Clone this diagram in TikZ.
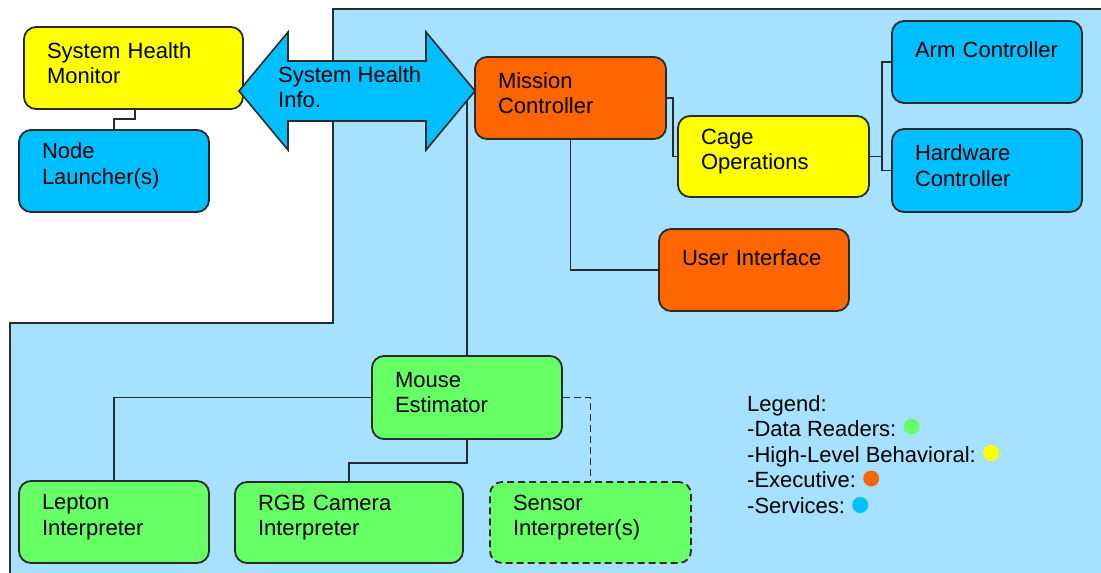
\documentclass[tikz,border=0pt]{standalone}
\usepackage{fontspec}
\setmainfont{Liberation Sans}
\definecolor{bgblue}{HTML}{A6E1FF}
\definecolor{svc}{HTML}{00BFFF}
\definecolor{beh}{HTML}{FFFF00}
\definecolor{exe}{HTML}{FF6600}
\definecolor{dat}{HTML}{66FF66}
\definecolor{edge}{HTML}{2A2A2A}
\begin{document}
\begin{tikzpicture}[x=1pt,y=-1pt,
  box/.style={draw=edge, line width=1.8pt, rounded corners=12pt, minimum height=82pt,
    inner xsep=23pt, inner ysep=0pt, align=left, font=\fontsize{22}{25.5}\selectfont,
    execute at end node={\endgraf\vspace{10pt}}},
  conn/.style={draw=edge, line width=1.8pt},
  leg/.style={inner sep=0pt, font=\fontsize{22}{25.5}\selectfont, anchor=base west},
  dot/.style={circle, inner sep=0pt, minimum size=16pt}]
\useasboundingbox (0,0) rectangle (1101,573);
\fill[white] (0,0) rectangle (1101,573);
% background region
\fill[bgblue] (10,573) -- (10,323) -- (333,323) -- (333,9) -- (1101,9) -- (1101,573) -- cycle;
\draw[conn] (10,573) -- (10,323) -- (333,323) -- (333,9) -- (1101,9);
% boxes
\node[box, fill=beh, text width=173pt] (shm) at (133.5,68) {System Health\\Monitor};
\node[box, fill=svc, text width=144pt] (nl) at (114,171) {Node\\Launcher(s)};
\node[box, fill=exe, text width=145pt] (mc) at (570.5,98) {Mission\\Controller};
\node[box, fill=beh, text width=145pt, minimum height=81pt] (cage) at (773.5,156.5) {Cage\\Operations};
\node[box, fill=svc, text width=144pt] (arm) at (987,62) {Arm Controller\\[-10pt]\mbox{}};
\node[box, fill=svc, text width=144pt, minimum height=83pt] (hw) at (987,170.5) {Hardware\\Controller};
\node[box, fill=exe, text width=144pt] (ui) at (754,270) {User Interface\\[-10pt]\mbox{}};
\node[box, fill=dat, text width=144pt, minimum height=83pt] (me) at (467,397.5) {Mouse\\Estimator};
\node[box, fill=dat, text width=144pt] (lep) at (114,522) {Lepton\\Interpreter};
\node[box, fill=dat, text width=182pt, minimum height=81pt] (rgb) at (349,522.5) {RGB Camera\\Interpreter};
\node[box, fill=dat, text width=155pt, minimum height=81pt, dash pattern=on 7pt off 4pt] (sen) at (590.5,522.5) {Sensor\\Interpreter(s)};
% connectors
\draw[conn] ([xshift=1.5pt]shm.south) -- ++(0,9) -| (nl.north);
\draw[conn] (mc.east) -- ++(6,0) |- (cage.west);
\draw[conn] (cage.east) -- ++(12,0) coordinate (cj);
\draw[conn] (arm.west) -| (cj) |- (hw.west);
\draw[conn] (mc.south) |- (ui.west);
\coordinate (af) at (467,95);
\draw[conn] (af) -- (me.north);
\draw[conn] (me.west) -| (lep.north);
\draw[conn] (me.south) -- ++(0,23) -| (rgb.north);
\draw[conn, dash pattern=on 7pt off 4pt] (me.east) -| (sen.north);
% double arrow
\draw[draw=edge, line width=1.6pt, fill=svc, line join=miter]
  (239,91) -- (288,32) -- (288,61) -- (426,61) -- (426,32) -- (475,91)
  -- (426,150) -- (426,121) -- (288,121) -- (288,150) -- cycle;
\node[inner sep=0pt, anchor=north west, align=left, font=\fontsize{22}{25.5}\selectfont] (shi) at (278,66) {System Health\\Info.};
% legend
\node[leg] (lg0) at (747,411) {Legend:};
\node[leg] (lg1) at (747,436.5) {-Data Readers:};
\node[leg] (lg2) at (747,462) {-High-Level Behavioral:};
\node[leg] (lg3) at (747,487.5) {-Executive:};
\node[leg] (lg4) at (747,513) {-Services:};
\node[dot, fill=dat] (d1) at ([xshift=15pt, yshift=10pt]lg1.base east) {};
\node[dot, fill=beh] (d2) at ([xshift=15pt, yshift=9pt]lg2.base east) {};
\node[dot, fill=exe] (d3) at ([xshift=15pt, yshift=9pt]lg3.base east) {};
\node[dot, fill=svc] (d4) at ([xshift=15pt, yshift=8pt]lg4.base east) {};
\end{tikzpicture}
\end{document}
